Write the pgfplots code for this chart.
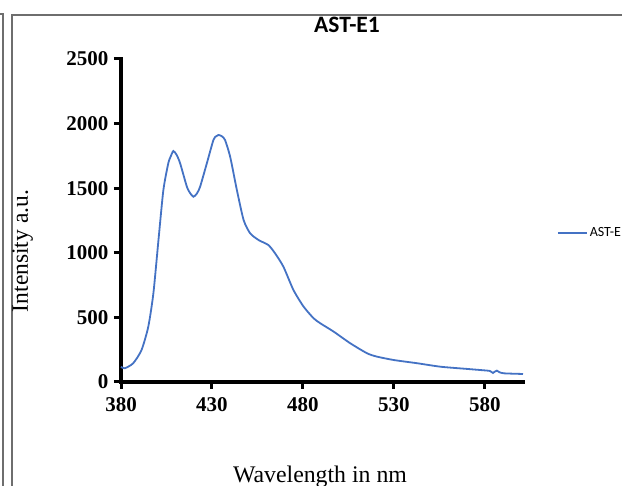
\documentclass[border=0pt]{standalone}
\usepackage{fontspec}
\setmainfont{Liberation Serif}
\newfontfamily\calfont{Carlito}
\usepackage{pgfplots}
\pgfplotsset{compat=1.18}
\definecolor{exblue}{HTML}{4472C4}
\definecolor{framegray}{HTML}{6E6E6E}
\begin{document}
\begin{tikzpicture}
\useasboundingbox (0pt,0pt) rectangle (622pt,486pt);
\fill[white] (0pt,0pt) rectangle (622pt,486pt);
% frames
\draw[framegray, line width=1.2pt] (0pt,472pt) -- (3pt,472pt) -- (3pt,-2pt);
\draw[framegray, line width=1.2pt] (12pt,-2pt) -- (12pt,471pt) -- (624pt,471pt);
% titles
\node[font=\calfont\bfseries\fontsize{23.5}{24}\selectfont, anchor=base] at (347pt,453pt) {AST-E1};
\node[font=\fontsize{23.8}{24}\selectfont, anchor=base] at (320pt,3pt) {Wavelength in nm};
\node[font=\fontsize{23.5}{24}\selectfont, anchor=base, rotate=90] at (28pt,235pt) {Intensity a.u.};
\begin{axis}[
  at={(121pt,104pt)}, anchor=south west,
  scale only axis, width=402pt, height=323pt,
  xmin=380, xmax=601, ymin=0, ymax=2500,
  axis lines*=left,
  axis line style={line width=3.5pt, black, line cap=rect},
  xtick={380,430,480,530,580},
  ytick={0,500,1000,1500,2000,2500},
  tick align=outside,
  major tick length=7pt,
  tick style={line width=3pt, black},
  /pgf/number format/assume math mode=true,
  /pgf/number format/1000 sep={},
  ticklabel style={font=\bfseries\fontsize{21}{21}\selectfont},
  xticklabel style={yshift=-5pt},
  yticklabel style={xshift=-2pt},
  clip=false,
  legend style={at={(axis description cs:1.084,0.461)}, anchor=west, draw=none, fill=none,
    inner sep=0pt, font=\calfont\fontsize{14}{14}\selectfont},
  legend image code/.code={\draw[#1] (0pt,0pt) -- (29pt,0pt);},
]
\addplot[exblue, line width=1.8pt, smooth, tension=0.4] coordinates {
(380,118) (382,106) (386.7,145) (391.3,248) (395,428) (397.8,686) (400.6,1099)
(403.3,1486) (406,1693) (407.4,1748) (408.8,1788) (410.6,1757) (412.5,1693)
(416.2,1512) (418,1462) (419.8,1434) (421.6,1456)
(423.5,1512) (427.2,1693) (430.8,1873) (432.3,1902) (433.6,1912) (435.4,1902)
(437.2,1873) (440,1744)
(443.7,1486) (447.4,1254) (451,1151) (455.6,1099) (461,1060) (464.7,996)
(469.3,892) (474.8,712) (480.4,583) (485.9,493) (489.6,454) (497,389)
(506,300) (515.3,222) (520.8,196) (530,170) (542.9,145) (555.8,118)
(570.4,101) (581.4,88) (583,84) (584.5,70) (585.5,80) (586.6,88) (588,76)
(590.6,67) (601,62)
};
\addlegendentry{AST-E1}
\end{axis}
\end{tikzpicture}
\end{document}
